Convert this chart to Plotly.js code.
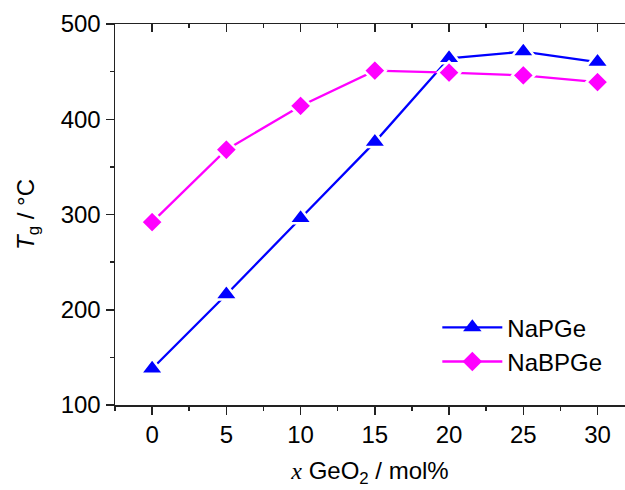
<!DOCTYPE html>
<html>
<head>
<meta charset="utf-8">
<script src="https://cdn.plot.ly/plotly-3.0.1.min.js"></script>
<style>html,body{margin:0;padding:0;background:#fff;}#chart{width:625px;height:490px;}</style>
</head>
<body>
<div id="chart"></div>
<script>
var xGeO2 = [0, 5, 10, 15, 20, 25, 30];
var tgNaPGe = [138, 216, 296, 376, 464, 471, 460];
var tgNaBPGe = [292, 368, 414, 451, 449, 446, 439];
var seriesNames = ['NaPGe', 'NaBPGe'];

var FONT = 'Arial, "Liberation Sans", sans-serif';
var FS = 24;
var BLUE = '#0000ff', MAG = '#ff00ff';

var traces = [
  {
    x: xGeO2, y: tgNaPGe, name: seriesNames[0], type: 'scatter', mode: 'lines+markers', showlegend: false,
    line: {color: BLUE, width: 2.3},
    marker: {symbol: 'triangle-up', size: 20, color: BLUE, line: {color: '#ffffff', width: 2.5}}
  },
  {
    x: xGeO2, y: tgNaBPGe, name: seriesNames[1], type: 'scatter', mode: 'lines+markers', showlegend: false,
    line: {color: MAG, width: 2.3},
    marker: {symbol: 'diamond', size: 17, color: MAG, line: {color: '#ffffff', width: 2.5}}
  },
  {
    x: [null], y: [null], name: seriesNames[0], type: 'scatter', mode: 'lines+markers',
    line: {color: BLUE, width: 2.3},
    marker: {symbol: 'triangle-up', size: 16, color: BLUE, line: {width: 0}}
  },
  {
    x: [null], y: [null], name: seriesNames[1], type: 'scatter', mode: 'lines+markers',
    line: {color: MAG, width: 2.3},
    marker: {symbol: 'diamond', size: 15, color: MAG, line: {width: 0}}
  },
  {
    x: [null], y: [null], xaxis: 'x2', showlegend: false, hoverinfo: 'skip', type: 'scatter', mode: 'markers'
  }
];

var layout = {
  width: 625, height: 490,
  margin: {l: 115, r: 0, t: 24, b: 85},
  paper_bgcolor: '#fff', plot_bgcolor: '#fff',
  font: {family: FONT, size: FS, color: '#000'},
  showlegend: true,
  legend: {
    x: 0.632, y: 0.262, xanchor: 'left', yanchor: 'top',
    bgcolor: 'rgba(0,0,0,0)', borderwidth: 0,
    font: {family: FONT, size: FS, color: '#000'},
    itemwidth: 60, tracegroupgap: 0
  },
  xaxis: {
    range: [-2.5, 31.85], tickvals: xGeO2, ticktext: xGeO2.map(String),
    ticks: 'outside', ticklen: 8, tickwidth: 1.5, tickcolor: '#222',
    minor: {dtick: 2.5, tick0: 0, ticks: 'outside', ticklen: 4, tickwidth: 1.5, tickcolor: '#222'},
    showline: true, linecolor: '#222', linewidth: 1.5, mirror: false,
    showgrid: false, zeroline: false,
    tickfont: {family: FONT, size: FS},
    title: {text: '<span style="font-family:\'Times New Roman\',\'Liberation Serif\',serif"><i>x</i></span> GeO<sub>2</sub> / mol%', font: {family: FONT, size: FS}, standoff: 15}
  },
  xaxis2: {
    overlaying: 'x', side: 'top', range: [-2.5, 31.85],
    tickvals: xGeO2, showticklabels: false,
    ticks: 'inside', ticklen: 8, tickwidth: 1.5, tickcolor: '#222',
    minor: {dtick: 2.5, tick0: 0, ticks: 'inside', ticklen: 4, tickwidth: 1.5, tickcolor: '#222'},
    showline: true, linecolor: '#222', linewidth: 1.5,
    showgrid: false, zeroline: false
  },
  yaxis: {
    range: [100, 500], dtick: 100, tick0: 100,
    ticks: 'outside', ticklen: 8, tickwidth: 1.5, tickcolor: '#222',
    minor: {dtick: 50, tick0: 100, ticks: 'outside', ticklen: 4, tickwidth: 1.5, tickcolor: '#222'},
    showline: true, linecolor: '#222', linewidth: 1.5, mirror: false,
    showgrid: false, zeroline: false,
    tickfont: {family: FONT, size: FS},
    title: {text: '<i>T</i><sub>g</sub> / °C', font: {family: FONT, size: FS}, standoff: 19}
  }
};

Plotly.newPlot('chart', traces, layout, {displayModeBar: false, staticPlot: true});
</script>
</body>
</html>
